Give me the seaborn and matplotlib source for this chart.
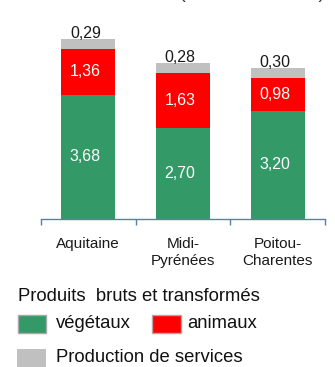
import matplotlib
matplotlib.use("Agg")
import matplotlib.pyplot as plt
from matplotlib.patches import Rectangle
import seaborn as sns
import pandas as pd

regions = ["Aquitaine", "Midi-\nPyrénées", "Poitou-\nCharentes"]
vegetaux = [3.68, 2.70, 3.20]
animaux = [1.36, 1.63, 0.98]
services = [0.29, 0.28, 0.30]

GREEN = "#339966"
RED = "#FF0000"
GRAY = "#C0C0C0"

sns.set_theme(style="white")
plt.rcParams["font.family"] = ["Liberation Sans", "DejaVu Sans"]

df = pd.DataFrame({"region": regions, "vegetaux": vegetaux,
                   "animaux": animaux, "services": services})
df["veg_anim"] = df["vegetaux"] + df["animaux"]
df["total"] = df["veg_anim"] + df["services"]

W, H = 335, 367
fig = plt.figure(figsize=(W / 100, H / 100), dpi=100)
ax = fig.add_axes([41 / W, 1 - 219 / H, 284 / W, 6 * 33.8 / H])

# stacked bars: draw cumulative totals back to front
for col, color in [("total", GRAY), ("veg_anim", RED), ("vegetaux", GREEN)]:
    sns.barplot(data=df, x="region", y=col, color=color, width=0.57,
                saturation=1, ax=ax, linewidth=0)

ax.set_xlim(-0.5, 2.5)
ax.set_ylim(0, 6)
ax.set_xlabel("")
ax.set_ylabel("")
ax.set_yticks([])
for s in ["left", "right", "top"]:
    ax.spines[s].set_visible(False)
ax.spines["bottom"].set_color("#5B7DB1")
ax.spines["bottom"].set_linewidth(1)

ax.set_xticks([0, 1, 2])
ax.set_xticklabels(regions, fontsize=11, color="#1a1a1a", linespacing=1.3)
ax.set_xticks([-0.5, 0.5, 1.5, 2.5], minor=True)
ax.tick_params(axis="x", which="major", length=0, pad=13)
ax.tick_params(axis="x", which="minor", length=4, width=1, color="#5B7DB1",
               direction="out", bottom=True)

def fmt(v):
    return f"{v:.2f}".replace(".", ",")

dx = -0.03
for i in range(len(regions)):
    ax.text(i + dx, vegetaux[i] / 2, fmt(vegetaux[i]), ha="center", va="center",
            color="white", fontsize=11.5)
    ax.text(i + dx, vegetaux[i] + animaux[i] / 2, fmt(animaux[i]), ha="center",
            va="center", color="white", fontsize=11.5)
    ax.text(i + dx, df["total"][i] + 0.03, fmt(services[i]), ha="center",
            va="baseline", color="#1a1a1a", fontsize=11.5)

# heading partly above the top edge
fig.text(40 / W, 1 + 2.5 / H, "Production 2010 (milliards d'euros)",
         ha="left", va="baseline", fontsize=13.3, color="#333333")

# legend
fs = 13.3
fig.text(18 / W, 1 - 301 / H, "Produits  bruts et transformés", ha="left",
         va="baseline", fontsize=fs, color="#111111")
fig.patches.append(Rectangle((18 / W, 1 - 333 / H), 28 / W, 18 / H,
                             transform=fig.transFigure, facecolor=GREEN,
                             edgecolor="#a8a8a8", linewidth=1))
fig.text(56 / W, 1 - 324 / H, "végétaux", ha="left", va="center",
         fontsize=fs, color="#111111")
fig.patches.append(Rectangle((152 / W, 1 - 333 / H), 29 / W, 18 / H,
                             transform=fig.transFigure, facecolor=RED,
                             edgecolor="#c0a0a0", linewidth=1))
fig.text(187 / W, 1 - 324 / H, "animaux", ha="left", va="center",
         fontsize=fs, color="#111111")
fig.patches.append(Rectangle((17 / W, 1 - 367 / H), 29 / W, 18 / H,
                             transform=fig.transFigure, facecolor=GRAY,
                             edgecolor="none"))
fig.text(56 / W, 1 - 358 / H, "Production de services", ha="left",
         va="center", fontsize=fs, color="#111111")

fig.savefig("out.png", dpi=100)
